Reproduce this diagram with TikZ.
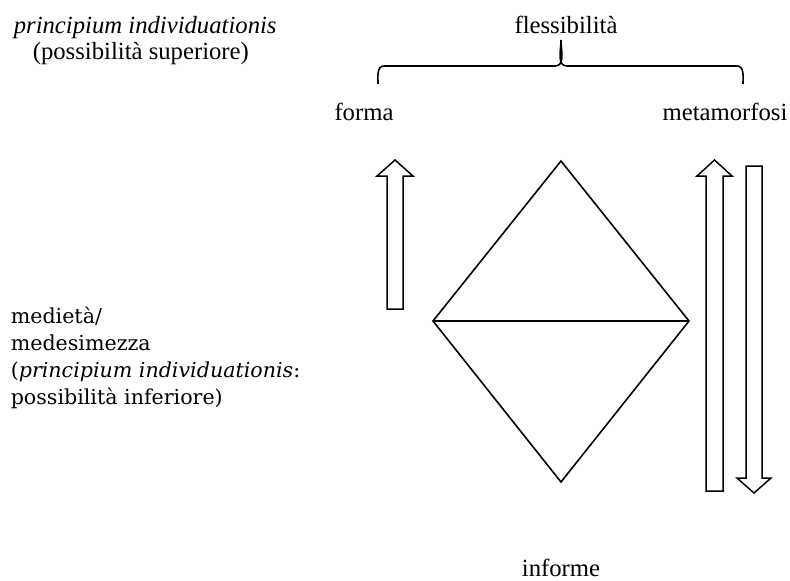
\documentclass[tikz,border=0pt]{standalone}
\usepackage{fontspec}
\setmainfont{Liberation Serif}
\newfontfamily\blockfont{DejaVu Serif}
\begin{document}
\begin{tikzpicture}[x=1pt,y=-1pt,line width=1.6pt,
  txt/.style={inner sep=0pt,font=\fontsize{24.7}{26.7}\selectfont},
  btxt/.style={inner sep=0pt,font=\blockfont\fontsize{20.6}{26.7}\selectfont},
  blockarrow/.style={draw,line width=1.5pt,line join=miter}]
\useasboundingbox (0,0) rectangle (790,581);
% texts
\node[txt,anchor=base west] (pi) at (13,33) {\textit{principium individuationis}};
\node[txt,anchor=base west] (ps) at (32,59) {(possibilità superiore)};
\node[txt,anchor=base] (fl) at (566,33) {flessibilità};
\node[txt,anchor=base] (fo) at (364,120) {forma};
\node[txt,anchor=base] (me) at (725,120) {metamorfosi};
\node[txt,anchor=base] (inf) at (561,576) {informe};
\node[btxt,anchor=base west] (m1) at (10,323) {medietà/};
\node[btxt,anchor=base west] (m2) at (10,350) {medesimezza};
\node[btxt,anchor=base west] (m3) at (10,377) {(\textit{principium individuationis}:};
\node[btxt,anchor=base west] (m4) at (10,404) {possibilità inferiore)};
% brace
\coordinate (bl) at (378,84);
\coordinate (br) at (743,84);
\coordinate (bt) at (561,40);
\draw (bl) to[out=90,in=180] (384,66) -- (555,66) to[out=0,in=-90] (bt)
      to[out=-90,in=180] (567,66) -- (737,66) to[out=0,in=90] (br);
% diamond
\coordinate (T) at (561,161);
\coordinate (L) at (433,321);
\coordinate (R) at (689,321);
\coordinate (B) at (561,482);
\draw[line join=miter] (T) -- (R) -- (B) -- (L) -- cycle;
\draw (L) -- (R);
% block arrows
\draw[blockarrow] (387,309) -- (387,176) -- (377,176) -- (395,160) -- (413,176) -- (403,176) -- (403,309) -- cycle;
\draw[blockarrow] (706,491) -- (706,176) -- (697,176) -- (714.5,160) -- (732,176) -- (723,176) -- (723,491) -- cycle;
\draw[blockarrow] (746,166) -- (746,478) -- (737,478) -- (754,493) -- (771,478) -- (762,478) -- (762,166) -- cycle;
\end{tikzpicture}
\end{document}
